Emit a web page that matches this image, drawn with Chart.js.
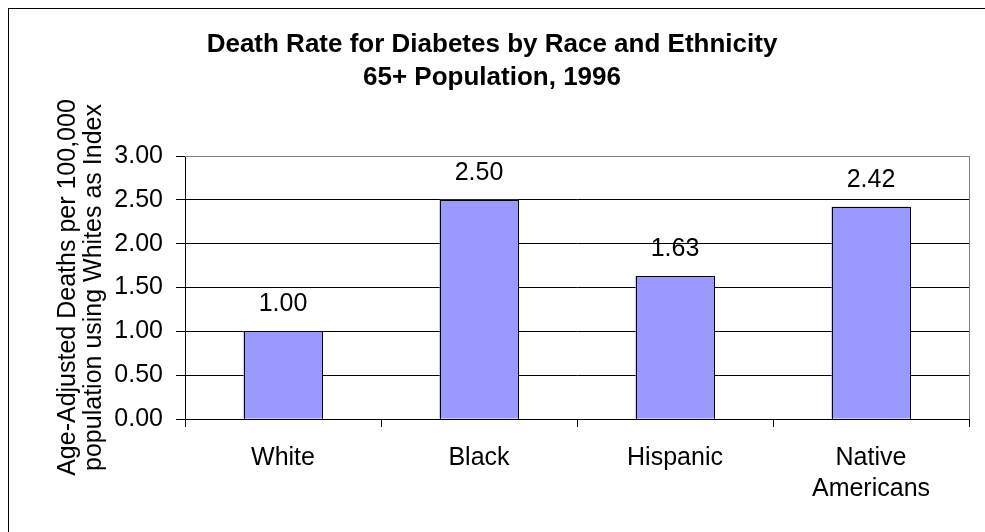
<!DOCTYPE html>
<html>
<head>
<meta charset="utf-8">
<script src="https://cdn.jsdelivr.net/npm/chart.js@4"></script>
<style>
  html, body { margin: 0; padding: 0; background: #fff; }
  #wrap { width: 985px; height: 532px; position: relative; }
</style>
</head>
<body>
<div id="wrap"><canvas id="chart" width="985" height="532"></canvas></div>
<script>
const categories = ['White', 'Black', 'Hispanic', ['Native', 'Americans']];
const rates = [1.00, 2.50, 1.63, 2.42];
const titleLines = ['Death Rate for Diabetes by Race and Ethnicity', '65+ Population, 1996'];
const yTitle = ['Age-Adjusted Deaths per 100,000', 'population using Whites as Index'];

const FONT = '"Liberation Sans", Arial, sans-serif';

// frame, title, plot border and value labels
const decor = {
  id: 'decor',
  beforeDraw(chart) {
    const ctx = chart.ctx;
    ctx.save();
    ctx.fillStyle = '#fff';
    ctx.fillRect(0, 0, chart.width, chart.height);
    ctx.strokeStyle = '#000';
    ctx.lineWidth = 1;
    ctx.strokeRect(8.5, 8.5, 1000, 600);
    ctx.fillStyle = '#000';
    ctx.font = 'bold 26px ' + FONT;
    ctx.textAlign = 'center';
    ctx.textBaseline = 'middle';
    ctx.fillText(titleLines[0], 492, 45);
    ctx.fillText(titleLines[1], 492, 78);
    ctx.restore();
  },
  afterDatasetsDraw(chart) {
    const ctx = chart.ctx;
    const a = chart.chartArea;
    ctx.save();
    ctx.strokeStyle = '#808080';
    ctx.lineWidth = 1;
    ctx.beginPath();
    ctx.moveTo(Math.round(a.left), Math.round(a.top) + 0.5);
    ctx.lineTo(Math.round(a.right) + 0.5, Math.round(a.top) + 0.5);
    ctx.lineTo(Math.round(a.right) + 0.5, Math.round(a.bottom));
    ctx.stroke();
    // crisp black outlines on the bars
    ctx.strokeStyle = '#000';
    chart.getDatasetMeta(0).data.forEach(bar => {
      const l = Math.round(bar.x - bar.width / 2) + 0.5;
      const r = Math.round(bar.x + bar.width / 2) + 0.5;
      const t = Math.round(bar.y) + 0.5;
      const b = Math.round(bar.base) + 0.5;
      ctx.strokeRect(l, t, r - l, b - t);
    });
    ctx.fillStyle = '#000';
    ctx.font = '25px ' + FONT;
    ctx.textAlign = 'center';
    ctx.textBaseline = 'middle';
    chart.getDatasetMeta(0).data.forEach((bar, i) => {
      ctx.fillText(rates[i].toFixed(2), bar.x, bar.y - 27);
    });
    ctx.restore();
  }
};

new Chart(document.getElementById('chart'), {
  type: 'bar',
  data: {
    labels: categories,
    datasets: [{
      data: rates,
      backgroundColor: '#9999FF',
      borderWidth: 0,
      categoryPercentage: 1,
      barPercentage: 0.403
    }]
  },
  options: {
    responsive: false,
    animation: false,
    devicePixelRatio: 1,
    layout: { padding: { left: 0, right: 16, top: 156, bottom: 0 } },
    plugins: { legend: { display: false }, tooltip: { enabled: false }, title: { display: false } },
    scales: {
      x: {
        offset: true,
        grid: { offset: true, drawOnChartArea: false, drawTicks: true, tickLength: 8, color: '#000' },
        border: { display: true, color: '#000' },
        ticks: { color: '#000', padding: 16, font: { family: FONT, size: 25, lineHeight: 1.24 }, maxRotation: 0 },
        afterFit(s) { s.height = 113; }
      },
      y: {
        min: 0, max: 3,
        grid: { color: '#000', tickLength: 9 },
        border: { display: true, color: '#000' },
        ticks: { stepSize: 0.5, color: '#000', padding: 13, font: { family: FONT, size: 25 }, callback: v => v.toFixed(2) },
        title: { display: true, text: yTitle, color: '#000', padding: { top: 55, bottom: 0 }, font: { family: FONT, size: 25, lineHeight: 1.04 } },
        afterFit(s) { s.width = 185; }
      }
    }
  },
  plugins: [decor]
});
</script>
</body>
</html>
